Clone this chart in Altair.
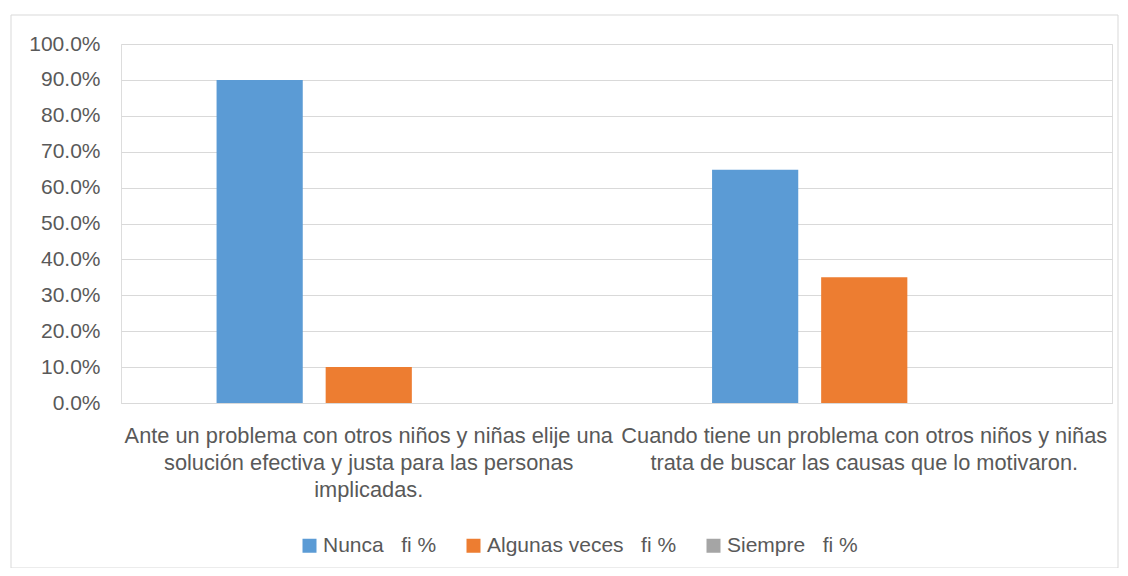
import altair as alt
import pandas as pd

categories = [
    "Ante un problema con otros niños y niñas elije una solución efectiva y justa para las personas implicadas.",
    "Cuando tiene un problema con otros niños y niñas trata de buscar las causas que lo motivaron.",
]
category_lines = [
    ["Ante un problema con otros niños y niñas elije una", "solución efectiva y justa para las personas", "implicadas."],
    ["Cuando tiene un problema con otros niños y niñas", "trata de buscar las causas que lo motivaron."],
]
series = ["Nunca\u00a0\u00a0\u00a0fi %", "Algunas veces\u00a0\u00a0\u00a0fi %", "Siempre\u00a0\u00a0\u00a0fi %"]
nunca = [0.90, 0.65]
algunas = [0.10, 0.35]
siempre = [0.0, 0.0]
colors = ["#5B9BD5", "#ED7D31", "#A5A5A5"]

rows = []
for i, c in enumerate(categories):
    for s, vals in zip(series, [nunca, algunas, siempre]):
        rows.append({"cat": c, "serie": s, "value": vals[i]})
df = pd.DataFrame(rows)

parts = []
for c, lines in zip(categories, category_lines):
    arr = "[" + ",".join("'" + l + "'" for l in lines) + "]"
    parts.append((c, arr))
label_expr = f"datum.label == '{parts[0][0]}' ? {parts[0][1]} : {parts[1][1]}"

FONT = "Liberation Sans"
TXT = "#595959"
W, H = 991, 359

bars = alt.Chart(df).mark_bar().encode(
    x=alt.X("cat:N", sort=categories, title=None,
            scale=alt.Scale(paddingInner=0, paddingOuter=0),
            axis=alt.Axis(labelAngle=0, labelExpr=label_expr, labelLimit=1000,
                          labelFontSize=21.8, labelLineHeight=27, labelPadding=22,
                          labelColor=TXT, labelFont=FONT, ticks=False,
                          domainColor="#d9d9d9", grid=False)),
    xOffset=alt.XOffset("serie:N", sort=series,
                        scale=alt.Scale(domain=series, paddingInner=0.21, paddingOuter=0.876)),
    y=alt.Y("value:Q", title=None,
            scale=alt.Scale(domain=[0, 1]),
            axis=alt.Axis(format=".1%", values=[i / 10 for i in range(11)],
                          labelFontSize=21, labelColor=TXT, labelFont=FONT,
                          labelPadding=21, ticks=False, domain=False,
                          gridColor="#d9d9d9")),
    color=alt.Color("serie:N", sort=series,
                    scale=alt.Scale(domain=series, range=colors),
                    legend=alt.Legend(title=None, orient="none", direction="horizontal",
                                      legendX=178, legendY=491, symbolType="square",
                                      symbolSize=196, symbolStrokeWidth=0,
                                      labelFontSize=21, labelFont=FONT, labelColor=TXT,
                                      labelLimit=500, labelOffset=3, columnPadding=26,
                                      padding=0)),
)

border = alt.Chart(pd.DataFrame({"b": [0]})).mark_rect(
    fill=None, stroke="#d9d9d9", strokeWidth=1
).encode(
    x=alt.value(-110), x2=alt.value(997), y=alt.value(-29), y2=alt.value(524)
)

chart = alt.layer(bars, border).properties(
    width=W, height=H,
    autosize=alt.AutoSizeParams(type="none"),
    padding={"left": 113, "top": 36, "right": 8, "bottom": 165},
).configure_view(stroke=None).configure(background="white")

chart.save("out.html", embed_options={"renderer": "svg", "actions": False})
